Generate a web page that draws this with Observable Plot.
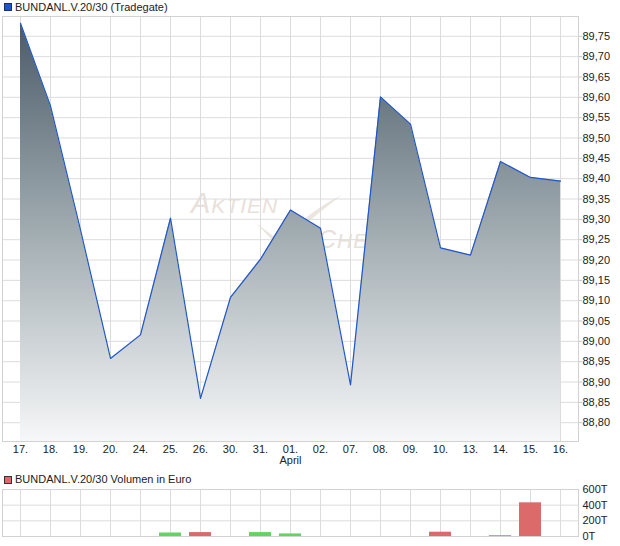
<!DOCTYPE html>
<html>
<head>
<meta charset="utf-8">
<script src="https://cdn.jsdelivr.net/npm/d3@7"></script>
<script src="https://cdn.jsdelivr.net/npm/@observablehq/plot@0.6"></script>
<style>
  html, body { margin: 0; padding: 0; background: #fff; }
  #wrap { position: relative; width: 620px; height: 546px; overflow: hidden; font-family: "Liberation Sans", Arial, sans-serif; color: #222; }
  .legend { position: absolute; left: 4px; font-size: 11px; display: flex; align-items: center; white-space: nowrap; z-index: 3; }
  .sw { width: 6px; height: 6px; border: 1px solid #333; margin-right: 3px; }
  #leg1 { top: 0; height: 14px; line-height: 14px; }
  #leg2 { top: 474px; height: 11px; line-height: 11px; }
  #wm { position: absolute; left: 0; top: 0; z-index: 0; }
  #topChart { position: absolute; left: 0; top: 14px; z-index: 1; }
  #volChart { position: absolute; left: 0; top: 485px; z-index: 1; }
</style>
</head>
<body>
<div id="wrap">
  <div class="legend" id="leg1"><span class="sw" style="background:#1e55c8;border-color:#1b2f66"></span>BUNDANL.V.20/30 (Tradegate)</div>
  <svg id="wm" width="620" height="546" aria-hidden="true">
    <text x="191" y="213" font-family="Liberation Sans, Arial, sans-serif" font-style="italic" letter-spacing="1" fill="#e7e1da"><tspan font-size="29">A</tspan><tspan font-size="21">KTIEN</tspan></text>
    <text x="318" y="248" font-family="Liberation Sans, Arial, sans-serif" font-style="italic" letter-spacing="1" fill="#e7e1da"><tspan font-size="25">C</tspan><tspan font-size="21">HECK</tspan></text>
    <path d="M256,223 L276,238 L273,241 Z" fill="#ebe6e0"/>
    <path d="M300,223 Q320,205 342,195 Q322,210 303,226 Z" fill="#ebe6e0"/>
  </svg>
  <div id="topSlot"></div>
  <div class="legend" id="leg2"><span class="sw" style="background:#dc6a6a;border-color:#333"></span>BUNDANL.V.20/30 Volumen in Euro</div>
  <div id="volSlot"></div>
</div>
<script>
// ---- data ----
const xLabels = ["17.","18.","19.","20.","24.","25.","26.","30.","31.","01.","02.","07.","08.","09.","10.","13.","14.","15.","16."];
const prices  = [89.782, 89.579, 89.274, 88.958, 89.016, 89.303, 88.860, 89.108, 89.202, 89.323, 89.278, 88.893, 89.601, 89.534, 89.230, 89.212, 89.442, 89.403, 89.394];
const volumes = [0, 0, 0, 0, 0, 45, 50, 0, 50, 33, 0, 0, 0, 0, 55, 0, 12, 430, 0]; // in T (thousand euro)
const monthStart = "01.";
const monthName = "April";
const priceTicks = [88.80, 88.85, 88.90, 88.95, 89.00, 89.05, 89.10, 89.15, 89.20, 89.25, 89.30, 89.35, 89.40, 89.45, 89.50, 89.55, 89.60, 89.65, 89.70, 89.75];
const priceRange = [88.7538, 89.7987];
const volTicks = [0, 200, 400, 600];
const volRange = [0, 600];

const upColor = "#62d462";
const downColor = "#dc6a6a";

const priceData = xLabels.map((label, i) => ({label, price: prices[i]}));
const volData = xLabels.map((label, i) => ({
  label,
  vol: volumes[i],
  color: i > 0 && prices[i] < prices[i - 1] ? downColor : upColor
}));

const font = '"Liberation Sans", Arial, sans-serif';
const baseStyle = {fontFamily: font, fontSize: "11px", color: "#222", background: "transparent", overflow: "visible"};
const gridColor = "#dcdcdc";
const frameColor = "#d2d2d2";

const topH = 458, topMT = 2, topMB = 31;

const gradientDefs = () => {
  const defs = d3.create("svg:defs");
  const g = defs.append("linearGradient")
    .attr("id", "areaGrad")
    .attr("gradientUnits", "userSpaceOnUse")
    .attr("x1", 0).attr("x2", 0)
    .attr("y1", topMT).attr("y2", topH - topMB);
  g.append("stop").attr("offset", "0%").attr("stop-color", "#485866");
  g.append("stop").attr("offset", "45%").attr("stop-color", "#97a3a9");
  g.append("stop").attr("offset", "100%").attr("stop-color", "#f6f7f8");
  return defs.node();
};

const topChart = Plot.plot({
  width: 620, height: topH,
  marginTop: topMT, marginBottom: topMB, marginLeft: 2, marginRight: 42,
  style: baseStyle,
  x: {type: "point", domain: xLabels, padding: 0.49, axis: null},
  y: {domain: priceRange, axis: null},
  marks: [
    gradientDefs,
    Plot.gridX({stroke: gridColor, strokeOpacity: 1}),
    Plot.gridY(priceTicks, {stroke: gridColor, strokeOpacity: 1}),
    Plot.areaY(priceData, {x: "label", y1: priceRange[0], y2: "price", fill: "url(#areaGrad)"}),
    Plot.lineY(priceData, {x: "label", y: "price", stroke: "#1f56c9", strokeWidth: 1.2}),
    Plot.frame({stroke: frameColor}),
    Plot.axisX({tickSize: 0, tickPadding: 4, label: null, fill: "#222",
      tickFormat: d => d === monthStart ? d + "\n" + monthName : d}),
    Plot.axisY(priceTicks, {anchor: "right", tickSize: 3, tickPadding: 1, label: null, stroke: "#c8c8c8", fill: "#222",
      tickFormat: d => d.toFixed(2).replace(".", ",")})
  ]
});
topChart.id = "topChart";
document.getElementById("topSlot").replaceWith(topChart);

const volChart = Plot.plot({
  width: 620, height: 61,
  marginTop: 4, marginBottom: 10, marginLeft: 2, marginRight: 42,
  style: baseStyle,
  x: {type: "band", domain: xLabels, paddingInner: 0.275, paddingOuter: 0.1325, axis: null},
  y: {domain: volRange, axis: null},
  color: {type: "identity"},
  marks: [
    Plot.gridX({stroke: gridColor, strokeOpacity: 1}),
    Plot.gridY(volTicks, {stroke: gridColor, strokeOpacity: 1}),
    Plot.frame({stroke: frameColor}),
    Plot.barY(volData, {x: "label", y: "vol", fill: "color"}),
    Plot.axisY(volTicks, {anchor: "right", tickSize: 0, tickPadding: 4, label: null, fill: "#222",
      tickFormat: d => d + "T"})
  ]
});
volChart.id = "volChart";
document.getElementById("volSlot").replaceWith(volChart);
</script>
</body>
</html>
